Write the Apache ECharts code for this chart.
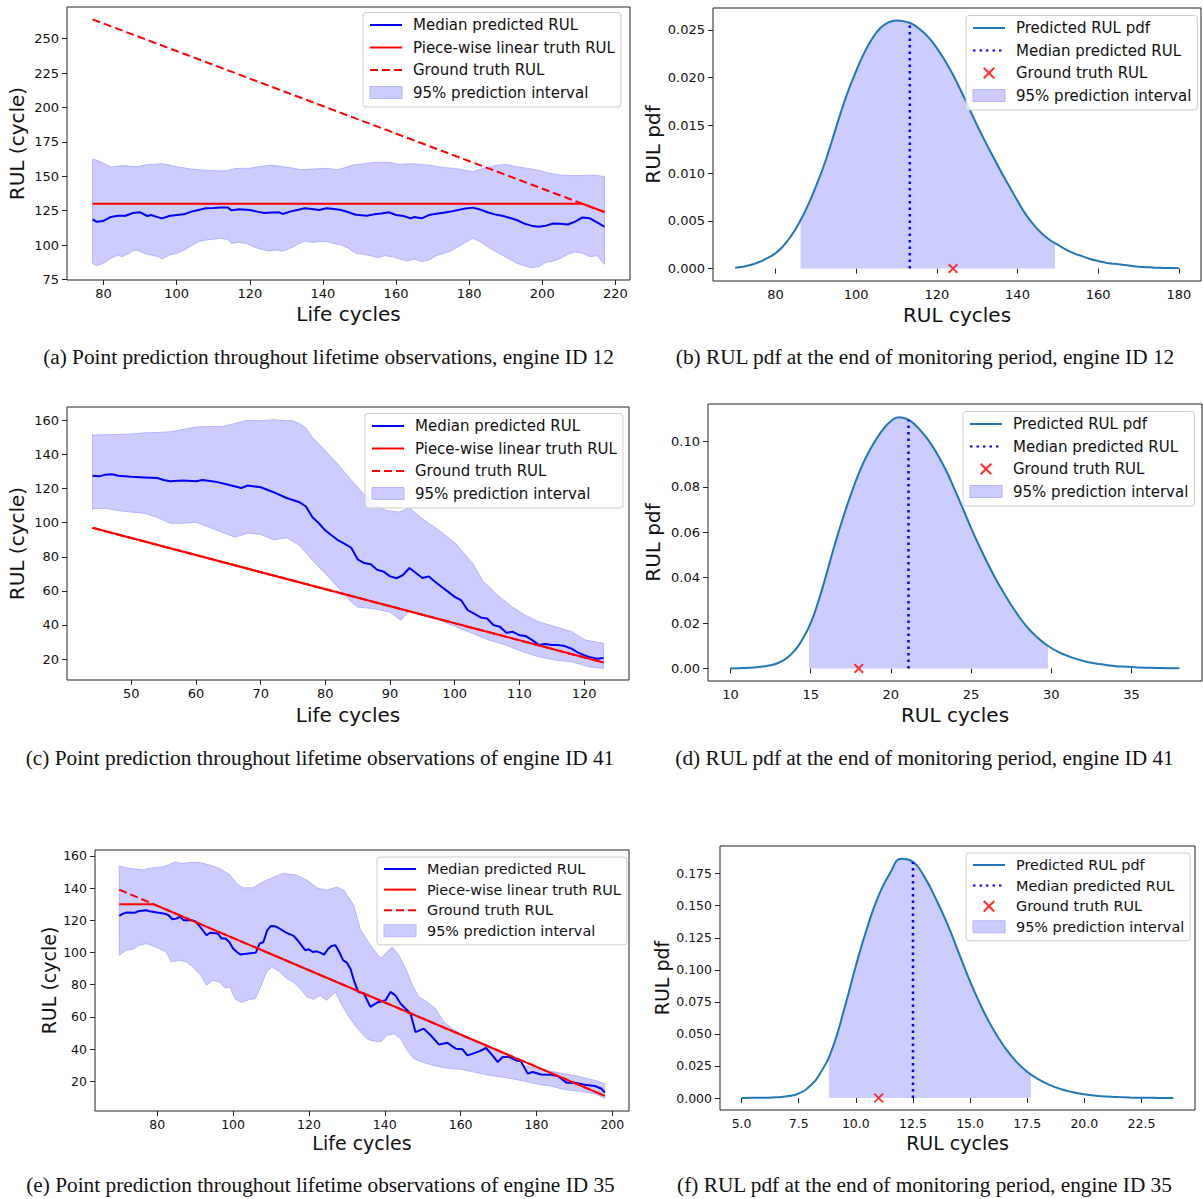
<!DOCTYPE html>
<html><head><meta charset="utf-8">
<script src="https://cdn.jsdelivr.net/npm/echarts@6/dist/echarts.min.js"></script>
<style>html,body{margin:0;padding:0;background:#fff}#c{width:1203px;height:1199px}</style>
</head><body><div id="c"></div>
<script>
// ---------------- DATA ----------------
// (a) engine 12, point prediction
const medianA = [[77,118.7],[78,117.0],[80,117.5],[82,120.4],[84,121.3],[86,121.3],[88,123.3],[90,123.8],[91,122.4],[92,121.1],[93,121.8],[95,120.1],[96,119.4],[98,121.1],[100,121.8],[102,122.3],[104,124.3],[106,125.5],[108,126.7],[110,126.9],[112,127.2],[114,127.2],[115,125.2],[117,126.0],[120,125.5],[122,124.3],[124,123.3],[126,123.7],[128,123.8],[129,122.6],[131,124.3],[133,125.5],[135,126.7],[137,126.2],[139,125.5],[141,126.7],[143,126.2],[145,125.5],[147,123.8],[149,122.0],[152,121.3],[154,122.3],[156,123.0],[158,123.8],[160,121.8],[162,121.1],[164,119.4],[165,120.4],[167,119.4],[169,121.8],[171,122.7],[173,123.5],[175,124.3],[177,125.5],[179,126.5],[181,127.2],[183,125.8],[185,123.8],[187,122.3],[189,121.3],[191,119.8],[193,118.2],[195,115.7],[197,114.1],[199,113.3],[201,114.1],[203,115.7],[205,115.4],[207,114.9],[209,117.0],[211,120.1],[213,119.4],[215,116.5],[217,113.3]];
const upperA = [[77,162.3],[78,161.8],[80,159.4],[82,156.7],[84,157.4],[86,157.7],[88,156.9],[90,157.2],[92,158.6],[94,158.6],[96,159.1],[98,158.1],[100,156.9],[104,155.2],[108,154.3],[112,153.8],[114,154.0],[116,155.7],[120,155.7],[122,156.7],[126,158.1],[129,156.9],[131,156.2],[134,154.7],[137,155.2],[141,155.7],[144,154.7],[146,156.2],[148,158.1],[150,158.6],[152,159.4],[155,160.1],[158,160.1],[161,158.6],[164,159.1],[167,158.6],[170,157.7],[173,156.2],[176,155.7],[179,154.3],[181,153.3],[184,155.7],[187,157.7],[190,158.6],[193,156.9],[196,155.7],[199,154.3],[202,152.1],[205,150.9],[208,150.4],[211,150.4],[214,150.9],[217,149.7]];
const lowerA = [[77,86.8],[78,85.1],[80,86.8],[82,90.4],[84,92.8],[85,91.6],[87,94.0],[88,95.7],[89,96.4],[90,95.2],[92,93.3],[93,92.8],[95,91.6],[96,89.9],[98,92.8],[100,94.0],[102,96.4],[104,99.6],[106,102.5],[108,103.7],[110,104.2],[112,104.9],[114,104.2],[115,101.2],[117,102.0],[119,101.2],[121,98.8],[123,97.1],[125,95.7],[127,96.4],[129,95.7],[131,97.6],[133,100.5],[135,102.9],[137,102.0],[139,102.5],[141,102.5],[143,101.1],[145,100.1],[147,97.6],[149,94.0],[151,93.3],[153,92.3],[155,90.9],[157,92.3],[159,91.6],[161,89.9],[163,88.4],[165,89.9],[167,88.0],[169,89.2],[171,92.3],[173,94.0],[175,95.7],[177,98.8],[179,102.0],[181,104.9],[183,102.5],[185,98.8],[187,95.7],[189,92.8],[191,89.9],[193,86.8],[195,85.1],[197,83.6],[199,84.3],[201,87.5],[203,88.4],[205,90.4],[207,93.3],[209,95.2],[211,94.0],[213,91.6],[215,92.3],[217,86.0]];
const piecewiseA = [[77,130],[211,130],[217,124]];
const groundA = [[77,264],[217,124]];

// (c) engine 41, point prediction
const medianC = [[44,127.6],[45,127.2],[46,128.2],[47,128.4],[48,127.6],[50,127.0],[52,126.6],[54,126.2],[55,125.1],[56,124.3],[58,124.7],[60,124.3],[61,125.1],[63,124.1],[65,122.3],[67,120.4],[68,121.8],[70,120.8],[72,117.9],[74,114.5],[76,112.0],[77,109.5],[78,103.2],[79,99.7],[80,95.4],[81,92.5],[82,89.6],[83,87.6],[84,85.3],[85,78.5],[86,76.3],[87,75.6],[88,72.4],[89,71.3],[90,68.5],[91,67.4],[92,69.3],[93,73.4],[94,70.5],[95,67.6],[96,68.5],[97,65.2],[98,62.3],[99,59.4],[100,56.5],[101,54.5],[102,48.7],[103,46.7],[104,44.4],[105,43.8],[106,39.9],[107,38.9],[108,35.4],[109,36.0],[110,34.0],[111,33.5],[112,31.1],[113,28.2],[114,28.8],[115,28.2],[116,28.2],[117,27.6],[118,26.2],[119,23.9],[120,22.3],[121,21.0],[122,20.2],[123,20.6]];
const upperC = [[44,151.4],[46,151.6],[48,151.8],[50,152.0],[52,152.7],[54,152.9],[56,153.3],[58,154.7],[60,156.1],[62,156.5],[64,156.3],[66,158.2],[68,160.2],[70,159.8],[72,160.4],[74,159.8],[75,159.8],[76,158.2],[77,155.5],[78,150.0],[80,142.2],[82,134.0],[84,125.0],[86.8,112.9],[89.4,107.1],[91.4,106.2],[93,108.7],[95,102.3],[97.6,95.4],[100.2,87.6],[102.8,75.9],[104.3,66.2],[106.3,58.4],[108.9,50.6],[110.9,45.7],[113,41.8],[115.6,38.9],[118.1,36.0],[120.2,31.1],[123,29.2]];
const lowerC = [[44,108.1],[46,108.5],[48,107.1],[50,106.2],[52,105.6],[54,103.2],[56,99.7],[58,99.7],[60,100.3],[62,97.4],[64,94.5],[66,91.5],[68,93.9],[70,93.1],[72,90.0],[74,91.2],[76,86.7],[78,77.9],[80,70.1],[82,62.0],[83,57.5],[84,53.5],[85,50.6],[87.3,49.6],[89.9,47.7],[91.7,42.8],[93,48.7],[95,45.7],[97.6,42.8],[100.2,38.9],[102.8,35.0],[105.3,31.1],[107.9,28.2],[110.5,24.3],[113,21.4],[115.6,19.4],[118.1,18.4],[120.7,15.5],[123,14.5]];
const piecewiseC = [[44,97],[123,18]];
const groundC = [[44,97],[123,18]];

// (e) engine 35, point prediction
const medianE = [[70,122.7],[71,124.1],[72,124.8],[74,124.6],[75,125.6],[77,126.2],[78,125.6],[80,124.8],[82,124.1],[83,123.1],[84,120.6],[85,121.0],[86,122.1],[87,120.0],[89,120.0],[90,119.4],[91,116.9],[92,113.8],[93,110.7],[94,112.3],[96,111.7],[97,108.6],[98,108.6],[99,106.5],[100,102.4],[101,100.3],[102,98.7],[104,99.3],[106,99.9],[107,105.5],[108,106.5],[109,113.8],[110,116.5],[111,116.3],[112,115.2],[114,112.3],[116,110.3],[117,107.6],[118,104.5],[119,101.4],[120,102.0],[121,100.3],[122,100.7],[123,99.9],[124,98.7],[125,102.0],[126,104.1],[127,104.5],[128,100.3],[129,95.2],[130,93.7],[131,89.6],[132,81.7],[133,75.5],[134.5,74.5],[136.2,66.2],[138,68.9],[140.2,70.3],[141.5,75.5],[142.8,73.4],[144.2,68.2],[145.5,65.1],[146.8,62.0],[148.1,50.6],[150.3,52.7],[152.1,48.6],[154.3,42.8],[156.5,44.0],[158.7,40.3],[160.5,39.9],[161.8,36.1],[163.2,37.2],[164.9,38.6],[166.7,40.7],[168.4,36.1],[169.8,32.0],[171.1,35.1],[172.9,35.1],[174.6,33.0],[175.9,32.4],[177.7,24.8],[179,25.8],[181.2,24.3],[183.9,24.1],[185.6,23.3],[187.9,19.2],[190.1,19.2],[192.7,17.9],[195.4,17.1],[197.2,15.4],[198,13.0]];
const upperE = [[70,153.7],[71.8,152.5],[74.4,151.7],[76.6,151.1],[77.5,152.1],[79.7,152.7],[81.5,153.1],[83.3,154.6],[84.6,156.2],[86.4,155.2],[88.6,155.8],[91.2,155.8],[93.9,154.2],[96.5,152.1],[99.2,148.0],[100.9,142.8],[102.7,140.1],[105.3,140.1],[107.1,142.8],[108.8,144.8],[111.5,147.5],[113.3,149.0],[116.8,148.0],[119.5,144.8],[122.1,140.1],[124.7,138.6],[127.4,140.7],[129.2,138.6],[131.8,129.3],[133.6,114.0],[136.2,104.5],[138.9,96.2],[140.6,100.3],[142,103.4],[143.7,98.3],[145.5,90.0],[147.3,79.6],[149,72.4],[151.2,69.3],[153.4,65.1],[155.6,56.9],[158.3,51.7],[160.9,48.6],[163.6,45.5],[166.2,43.4],[168.9,40.3],[171.5,36.1],[174.2,32.0],[176.8,29.9],[179.5,28.3],[182.1,26.8],[184.8,25.8],[187.4,24.7],[190.1,23.7],[192.7,22.1],[195.4,20.6],[198,18.5]];
const lowerE = [[70,98.3],[71.8,101.4],[73.6,102.0],[75.3,104.5],[77.1,105.5],[78.4,104.5],[80.6,102.4],[82.4,100.3],[83.7,94.1],[85.9,95.2],[87.7,94.1],[89.4,91.0],[91.2,86.9],[93,79.6],[94.7,82.7],[96.5,81.7],[97.8,78.0],[99.2,78.6],[100.5,71.3],[102.2,68.9],[104.4,70.9],[105.8,71.3],[107.1,77.6],[108.8,87.9],[110.2,91.0],[112.4,87.9],[114.2,83.8],[115.9,81.7],[117.7,77.6],[119.5,72.4],[121.2,70.9],[123,73.4],[124.7,70.3],[127,75.5],[128.7,67.2],[130.9,58.9],[133.1,52.0],[135.3,46.5],[136.2,45.5],[138.9,44.4],[140.6,48.6],[142.4,49.6],[144.2,46.5],[145.9,39.3],[147.7,34.1],[149.9,32.0],[152.1,30.4],[154.8,28.9],[157.4,27.9],[160.1,27.5],[162.7,26.2],[165.4,24.8],[168,23.7],[170.7,22.7],[173.3,21.7],[175.9,20.6],[178.6,19.2],[181.2,17.9],[183.9,17.1],[186.5,15.4],[189.2,14.4],[191.8,13.8],[195.4,12.3],[198,9.5]];
const piecewiseE = [[70,130],[79,130],[198,11]];
const groundE = [[70,139],[198,11]];

// (b) engine 12, RUL pdf
const pdfB = [[70,0.0001],[72,0.0002],[74,0.0004],[76,0.0007],[78,0.0011],[80,0.0016],[82,0.0024],[84,0.0035],[86,0.0049],[88,0.0066],[90,0.0086],[92,0.0108],[94,0.0134],[96,0.0161],[98,0.0186],[100,0.0207],[102,0.0226],[104,0.0241],[106,0.0252],[108,0.0258],[110,0.0260],[112,0.0259],[114,0.0256],[116,0.0250],[118,0.0242],[120,0.0231],[122,0.0218],[124,0.0203],[126,0.0186],[128,0.0168],[130,0.0150],[132,0.0133],[134,0.0117],[136,0.0101],[138,0.0086],[140,0.0071],[142,0.0057],[144,0.0046],[146,0.0037],[148,0.0030],[150,0.0025],[152,0.0020],[154,0.0016],[156,0.0013],[158,0.0010],[160,0.0008],[162,0.0006],[164,0.0005],[166,0.0004],[168,0.0003],[170,0.0002],[172,0.00015],[174,0.0001],[176,0.00007],[178,0.00005],[180,0.00003]];
const intervalB = [86.2, 149.3];
const intervalTopB = [0.0050, 0.0027];
const medianB = [113.3, 0.0257];
const truthB = [124, 0];

// (d) engine 41, RUL pdf
const pdfD = [[10,0.0000],[10.5,0.0001],[11,0.0002],[11.5,0.0004],[12,0.0008],[12.5,0.0014],[13,0.0025],[13.5,0.0045],[14,0.0078],[14.5,0.0130],[15,0.0200],[15.5,0.0300],[16,0.0420],[16.5,0.0545],[17,0.0660],[17.5,0.0765],[18,0.0860],[18.5,0.0938],[19,0.1000],[19.5,0.1053],[20,0.1090],[20.5,0.1108],[21,0.1100],[21.5,0.1075],[22,0.1037],[22.5,0.0990],[23,0.0932],[23.5,0.0865],[24,0.0785],[24.5,0.0703],[25,0.0620],[25.5,0.0542],[26,0.0468],[26.5,0.0400],[27,0.0338],[27.5,0.0280],[28,0.0228],[28.5,0.0182],[29,0.0145],[29.5,0.0115],[30,0.0090],[30.5,0.0071],[31,0.0056],[31.5,0.0043],[32,0.0033],[32.5,0.0025],[33,0.0019],[33.5,0.0014],[34,0.0010],[34.5,0.0008],[35,0.0006],[35.5,0.0004],[36,0.0003],[36.5,0.0002],[37,0.00015],[37.5,0.0001],[38,0.00005]];
const intervalD = [14.9, 29.8];
const intervalTopD = [0.0191, 0.0099];
const medianD = [21.1, 0.1095];
const truthD = [18, 0];

// (f) engine 35, RUL pdf
const pdfF = [[5,0.0000],[5.5,0.0001],[6,0.0002],[6.5,0.0005],[7,0.0013],[7.5,0.0035],[8,0.0095],[8.5,0.0210],[9,0.0400],[9.5,0.0700],[10,0.1030],[10.5,0.1330],[11,0.1580],[11.5,0.1755],[12,0.1866],[12.5,0.1842],[13,0.1725],[13.5,0.1555],[14,0.1360],[14.5,0.1135],[15,0.0910],[15.5,0.0710],[16,0.0540],[16.5,0.0400],[17,0.0288],[17.5,0.0205],[18,0.0145],[18.5,0.0100],[19,0.0068],[19.5,0.0045],[20,0.0029],[20.5,0.0018],[21,0.0011],[21.5,0.0007],[22,0.0004],[22.5,0.0002],[23,0.0001],[23.5,0.00005],[23.9,0.00002]];
const intervalF = [8.82, 17.66];
const intervalTopF = [0.032, 0.0187];
const medianF = [12.5, 0.1842];
const truthF = [11, 0];

// tick labels
const ticksAx = [80,100,120,140,160,180,200,220];
const ticksAy = [75,100,125,150,175,200,225,250];
const ticksBx = [80,100,120,140,160,180];
const ticksBy = [0,0.005,0.010,0.015,0.020,0.025];
const ticksCx = [50,60,70,80,90,100,110,120];
const ticksCy = [20,40,60,80,100,120,140,160];
const ticksDx = [10,15,20,25,30,35];
const ticksDy = [0,0.02,0.04,0.06,0.08,0.10];
const ticksEx = [80,100,120,140,160,180,200];
const ticksEy = [20,40,60,80,100,120,140,160];
const ticksFx = [5,7.5,10,12.5,15,17.5,20,22.5];
const ticksFy = [0,0.025,0.050,0.075,0.100,0.125,0.150,0.175];

const captions = [
  '(a) Point prediction throughout lifetime observations, engine ID 12',
  '(b) RUL pdf at the end of monitoring period, engine ID 12',
  '(c) Point prediction throughout lifetime observations of engine ID 41',
  '(d) RUL pdf at the end of monitoring period, engine ID 41',
  '(e) Point prediction throughout lifetime observations of engine ID 35',
  '(f) RUL pdf at the end of monitoring period, engine ID 35'
];

// ---------------- CHART ----------------
const FONT = 'DejaVu Sans';
const TXT = '#111';
const BAND = '#ccccff';
const BAND_EDGE = '#b3b3ff';
const XPATH = 'path://M0,1.3 L1.3,0 L5,3.7 L8.7,0 L10,1.3 L6.3,5 L10,8.7 L8.7,10 L5,6.3 L1.3,10 L0,8.7 L3.7,5 Z';

const grids = [
  {left:67, top:7, width:563, height:273},
  {left:713, top:8, width:488, height:273},
  {left:67, top:407, width:562, height:273},
  {left:708, top:404, width:494, height:277},
  {left:95, top:850, width:534, height:261},
  {left:720, top:846, width:475, height:264}
].map(g => Object.assign({show:true, borderColor:'#222', borderWidth:1, backgroundColor:'transparent'}, g));

function axis(i, min, max, ticks, name, gap, fmt, fs, nfs, margin) {
  return {
    type:'value', gridIndex:i, min:min, max:max,
    axisLine:{show:false}, splitLine:{show:false},
    axisTick:{show:true, inside:false, length:5, lineStyle:{color:'#222', width:1}, customValues:ticks},
    axisLabel:{customValues:ticks, formatter: fmt || (v => String(v)), color:TXT, fontFamily:FONT, fontSize:fs, margin:margin},
    name:name, nameLocation:'middle', nameGap:gap,
    nameTextStyle:{fontFamily:FONT, fontSize:nfs, color:TXT}
  };
}
const f3 = v => v.toFixed(3), f2 = v => v.toFixed(2), f1 = v => v.toFixed(1);

const xAxes = [
  axis(0, 70, 224, ticksAx, 'Life cycles', 24, null, 13, 20, 7),
  axis(1, 64.5, 185.5, ticksBx, 'RUL cycles', 24, null, 13, 20, 7),
  axis(2, 40.05, 126.95, ticksCx, 'Life cycles', 25, null, 13, 20, 7),
  axis(3, 8.6, 39.4, ticksDx, 'RUL cycles', 24, null, 13, 20, 7),
  axis(4, 63.6, 204.4, ticksEx, 'Life cycles', 22, null, 12.5, 19, 7),
  axis(5, 4.055, 24.845, ticksFx, 'RUL cycles', 23, f1, 12.5, 19, 7)
];
const yAxes = [
  axis(0, 74.6, 273, ticksAy, 'RUL (cycle)', 40, null, 13, 20, 8),
  axis(1, -0.0013, 0.0273, ticksBy, 'RUL pdf', 50, f3, 13, 20, 8),
  axis(2, 7.7, 167.9, ticksCy, 'RUL (cycle)', 40, null, 13, 20, 8),
  axis(3, -0.00555, 0.1166, ticksDy, 'RUL pdf', 45, f2, 13, 20, 8),
  axis(4, 1.6, 163.6, ticksEy, 'RUL (cycle)', 37, null, 12.5, 19, 8),
  axis(5, -0.00936, 0.1966, ticksFy, 'RUL pdf', 49, f3, 12.5, 19, 8)
];

function lineS(name, i, data, color, width, type, smooth) {
  return {type:'line', name:name, xAxisIndex:i, yAxisIndex:i, data:data, symbol:'none',
    smooth: smooth || false,
    color:color, lineStyle:{color:color, width:width, type:type, cap:'butt'}, itemStyle:{color:color}, z:3, silent:true};
}
function bandS(name, i, upper, lower) {
  const poly = upper.concat(lower.slice().reverse());
  return {type:'custom', name:name, xAxisIndex:i, yAxisIndex:i, data:poly, encode:{x:0, y:1},
    color:BAND, itemStyle:{color:BAND}, z:1, silent:true, clip:false,
    renderItem:function(params, api){
      if (params.dataIndex !== 0) return null;
      return {type:'polygon', shape:{points: poly.map(p => api.coord(p))},
        style:{fill:BAND, stroke:BAND_EDGE, lineWidth:1}};
    }};
}
function fillS(name, i, pdf, iv, tops, smooth) {
  const d = [[iv[0], tops[0]]].concat(pdf.filter(p => p[0] > iv[0] && p[0] < iv[1]), [[iv[1], tops[1]]]);
  return {type:'line', name:name, xAxisIndex:i, yAxisIndex:i, data:d, symbol:'none',
    smooth:smooth, color:BAND, itemStyle:{color:BAND},
    lineStyle:{width:0, opacity:0}, areaStyle:{color:BAND, opacity:1, origin:'auto'}, z:1, silent:true};
}
function scatterS(name, i, pt) {
  return {type:'scatter', name:name, xAxisIndex:i, yAxisIndex:i, data:[pt], symbol:XPATH, symbolSize:10,
    color:'#ff0000', itemStyle:{color:'#ff0000'}, z:5, silent:true};
}

function timePanel(p, i, med, pw, gt, up, lo) {
  return [
    bandS(p+'|95% prediction interval', i, up, lo),
    lineS(p+'|Median predicted RUL', i, med, '#0000ff', 2, 'solid'),
    lineS(p+'|Piece-wise linear truth RUL', i, pw, '#ff0000', 2, 'solid'),
    lineS(p+'|Ground truth RUL', i, gt, '#ff0000', 2, [8,4])
  ];
}
function pdfPanel(p, i, pdf, iv, tops, med, truth) {
  return [
    fillS(p+'|95% prediction interval', i, pdf, iv, tops, 0.5),
    lineS(p+'|Predicted RUL pdf', i, pdf, '#1f77b4', 2, 'solid', 0.5),
    lineS(p+'|Median predicted RUL', i, [[med[0],0],[med[0],med[1]]], '#0000ff', 2.5, [2.5,4]),
    scatterS(p+'|Ground truth RUL', i, truth)
  ];
}

const series = [].concat(
  timePanel('a', 0, medianA, piecewiseA, groundA, upperA, lowerA),
  pdfPanel('b', 1, pdfB, intervalB, intervalTopB, medianB, truthB),
  timePanel('c', 2, medianC, piecewiseC, groundC, upperC, lowerC),
  pdfPanel('d', 3, pdfD, intervalD, intervalTopD, medianD, truthD),
  timePanel('e', 4, medianE, piecewiseE, groundE, upperE, lowerE),
  pdfPanel('f', 5, pdfF, intervalF, intervalTopF, medianF, truthF)
);

const bandItemStyle = {color:BAND, borderColor:BAND_EDGE, borderWidth:1};
const hiddenMarker = {color:'rgba(0,0,0,0)', borderColor:'rgba(0,0,0,0)', borderWidth:0, opacity:0};
function legend(p, left, top, fs, gap, kind) {
  const names = kind === 'time'
    ? ['Median predicted RUL','Piece-wise linear truth RUL','Ground truth RUL','95% prediction interval']
    : ['Predicted RUL pdf','Median predicted RUL','Ground truth RUL','95% prediction interval'];
  return {
    orient:'vertical', left:left, top:top, itemWidth:32, itemHeight:12, itemGap:gap,
    padding:[5,6,7,6], borderColor:'#cccccc', borderWidth:1, borderRadius:3,
    backgroundColor:'rgba(255,255,255,0.8)', selectedMode:false,
    textStyle:{fontFamily:FONT, fontSize:fs, color:TXT, padding:[0,0,0,6]},
    formatter: n => n.split('|')[1],
    data: names.map(n => {
      const item = {name: p+'|'+n};
      if (n === '95% prediction interval') { item.icon = 'rect'; item.itemStyle = bandItemStyle; }
      else if (n === 'Ground truth RUL' && kind === 'pdf') { item.itemStyle = {borderWidth:0}; }
      else { item.itemStyle = hiddenMarker; }
      return item;
    })
  };
}
const legends = [
  legend('a', 363, 12.5, 15, 7.5, 'time'),
  legend('b', 966, 15.5, 15, 7.5, 'pdf'),
  legend('c', 365, 413.5, 15, 7.5, 'time'),
  legend('d', 963, 411.5, 15, 7.5, 'pdf'),
  legend('e', 377, 857, 14.4, 6.6, 'time'),
  legend('f', 966, 853, 14.4, 6.6, 'pdf')
];

const capPos = [[328.5,357],[925,357],[320,758],[924.5,758],[320.5,1185],[924.5,1185]];
const graphics = captions.map((t, k) => ({
  type:'text', x:capPos[k][0], y:capPos[k][1], silent:true,
  style:{text:t, fontFamily:'Liberation Serif', fontSize:21.3, fill:TXT,
    align:'center', verticalAlign:'middle', textAlign:'center', textVerticalAlign:'middle'}
}));

const chart = echarts.init(document.getElementById('c'), null, {renderer:'svg'});
chart.setOption({
  animation:false,
  backgroundColor:'#fff',
  grid:grids, xAxis:xAxes, yAxis:yAxes, legend:legends, series:series, graphic:graphics
});
</script></body></html>
